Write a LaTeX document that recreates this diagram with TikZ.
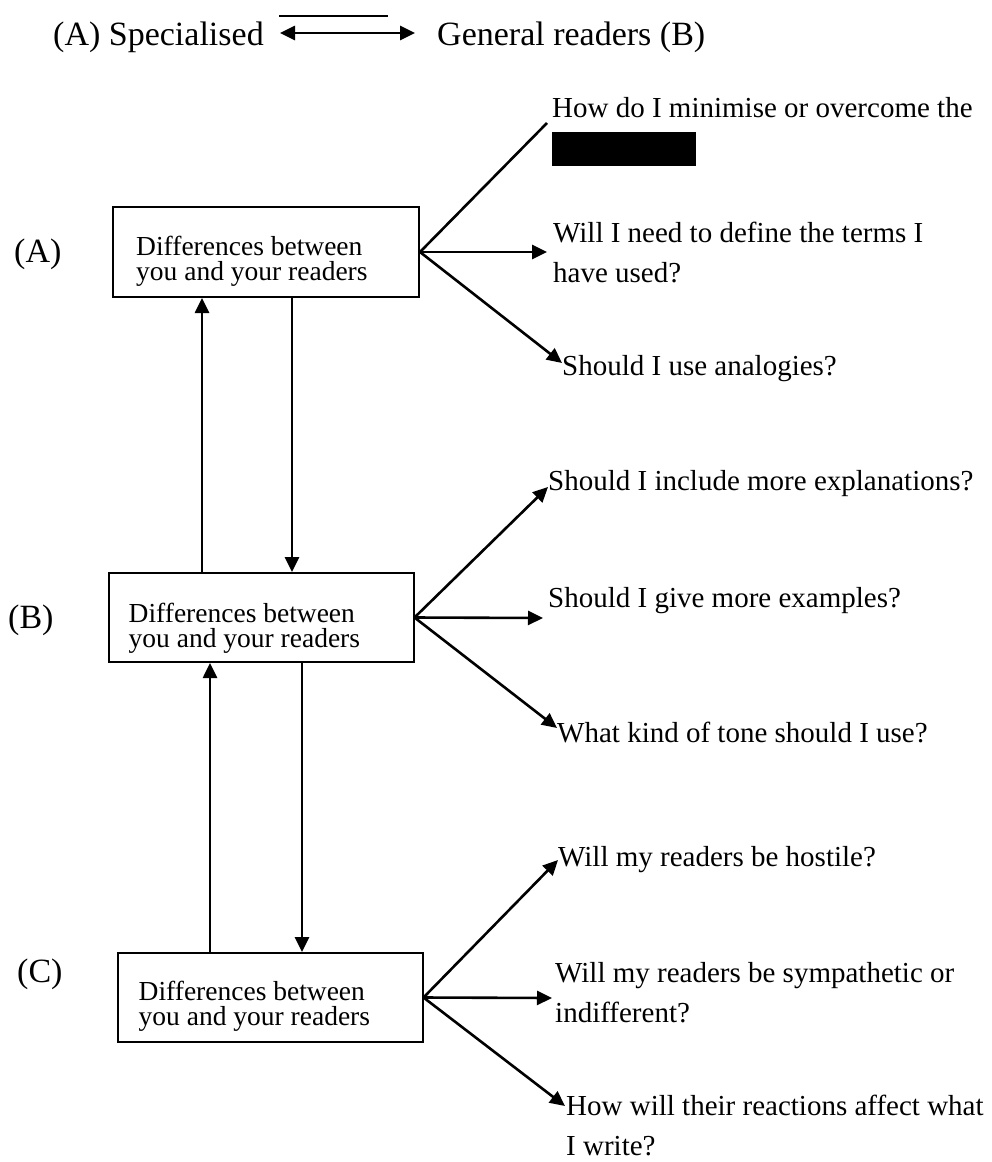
\documentclass[tikz,border=0pt]{standalone}
\usepackage{fontspec}
\setmainfont{Liberation Serif}
\usetikzlibrary{arrows.meta}
\begin{document}
\begin{tikzpicture}[x=1pt,y=-1pt,
  conn/.style={line width=2.6pt},
  arr/.style={conn,-{Triangle[length=15pt,width=14pt]}},
  dblarr/.style={conn,{Triangle[length=15pt,width=14pt]}-{Triangle[length=15pt,width=14pt]}},
  box/.style={draw,line width=2pt,minimum width=305pt,minimum height=90pt,inner sep=0pt},
  boxtxt/.style={font=\fontsize{27.5}{25}\selectfont,align=left,inner sep=0pt,anchor=west},
  lbl/.style={font=\fontsize{29}{39.5}\selectfont,align=left,inner sep=0pt,anchor=base west},
  big/.style={font=\fontsize{34}{40}\selectfont,inner sep=0pt,anchor=base west}]
\useasboundingbox (0,0) rectangle (992,1162);

% header
\node[big] (spec) at (53,45) {(A) Specialised};
\node[big] (gen) at (437,45) {General readers (B)};
\coordinate (hl) at (280,33);
\coordinate (hr) at (415,33);
\draw[dblarr] (hl) -- (hr);
\coordinate (ol) at (279,16);
\coordinate (or) at (388,16);
\draw[conn] (ol) -- (or);

% side labels
\node[big] (la) at (14,262) {(A)};
\node[big] (lb) at (8,628) {(B)};
\node[big] (lc) at (17,982) {(C)};

% boxes
\node[box,minimum width=306pt] (A) at (266,252) {};
\node[box,minimum height=89pt] (B) at (261,617.5) {};
\node[box,minimum height=89pt] (C) at (270,997.5) {};
\node[boxtxt] (At) at ([xshift=24pt,yshift=-9pt]A.west) {Differences between\\you and your readers};
\node[boxtxt] (Bt) at ([xshift=21pt,yshift=-11pt]B.west) {Differences between\\you and your readers};
\node[boxtxt] (Ct) at ([xshift=22pt,yshift=-9pt]C.west) {Differences between\\you and your readers};

% vertical connectors
\draw[arr] (B.north -| 202,0) -- (A.south -| 202,0);
\draw[arr] (A.south -| 292,0) -- (B.north -| 292,0);
\draw[arr] (C.north -| 210,0) -- (B.south -| 210,0);
\draw[arr] (B.south -| 302,0) -- (C.north -| 302,0);

% A questions
\node[lbl] (qa1) at (552,117) {How do I minimise or overcome the};
\fill (552,132) rectangle (696,166);
\node[lbl] (qa2) at (553,282) {Will I need to define the terms I\\have used?};
\node[lbl] (qa3) at (562,375) {Should I use analogies?};
\coordinate (a1) at (547,123);
\coordinate (a2) at (547,252);
\coordinate (a3) at (562,363);
\draw[conn] (A.east) -- (a1);
\draw[arr] (A.east) -- (a2);
\draw[arr] (A.east) -- (a3);

% B questions
\node[lbl] (qb1) at (548,490) {Should I include more explanations?};
\node[lbl] (qb2) at (548,607) {Should I give more examples?};
\node[lbl] (qb3) at (557,742) {What kind of tone should I use?};
\coordinate (b1) at (548,487);
\coordinate (b2) at (543,618);
\coordinate (b3) at (557,728);
\draw[arr] (B.east) -- (b1);
\draw[arr] (B.east) -- (b2);
\draw[arr] (B.east) -- (b3);

% C questions
\node[lbl] (qc1) at (558,866) {Will my readers be hostile?};
\node[lbl] (qc2) at (555,1022) {Will my readers be sympathetic or\\indifferent?};
\node[lbl] (qc3) at (566,1155) {How will their reactions affect what\\I write?};
\coordinate (c1) at (558,860);
\coordinate (c2) at (552,998);
\coordinate (c3) at (565,1106);
\draw[arr] (C.east) -- (c1);
\draw[arr] (C.east) -- (c2);
\draw[arr] (C.east) -- (c3);
\end{tikzpicture}
\end{document}
